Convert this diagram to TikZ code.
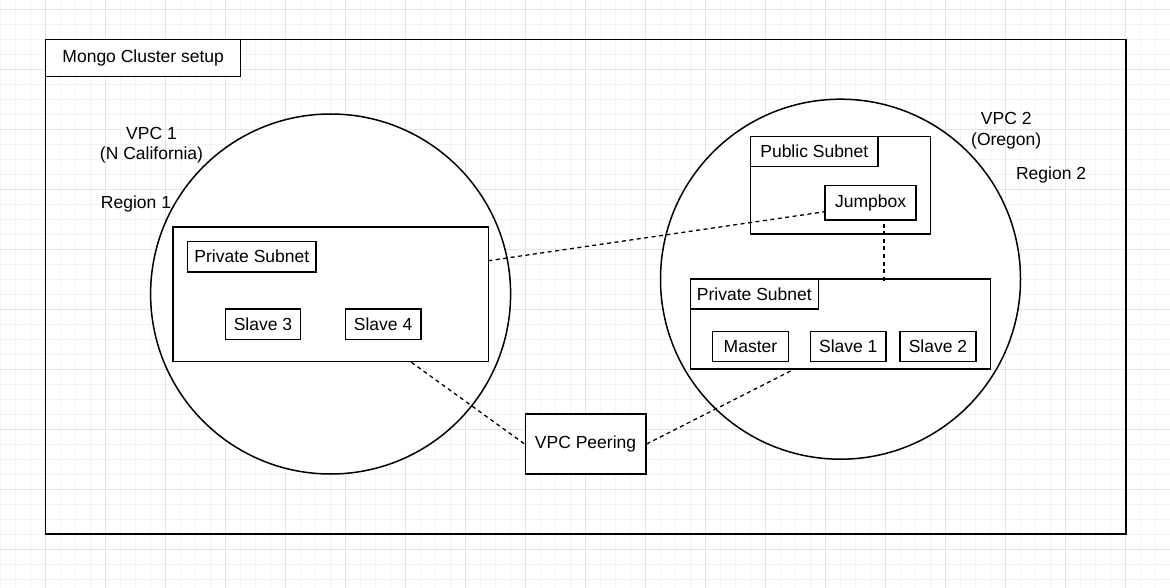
\documentclass[tikz,border=0pt]{standalone}
\usepackage{fontspec}
\setmainfont{Liberation Sans}
\definecolor{gridminor}{HTML}{F3F3F3}
\definecolor{gridmajor}{HTML}{E4E4E4}
\tikzset{
  box/.style={draw=black, fill=white, line width=1.5pt, inner sep=0pt,
    font=\fontsize{17.5}{20.7}\selectfont, align=center},
  vpc/.style={draw=black, fill=white, line width=1.5pt, circle, inner sep=0pt, minimum size=360pt},
  lbl/.style={inner sep=0pt, font=\fontsize{17.5}{20.7}\selectfont, align=center},
  link/.style={draw=black, line width=1.3pt, dash pattern=on 4pt off 3.5pt}
}
\begin{document}
\begin{tikzpicture}[x=1pt,y=-1pt]
\useasboundingbox (0,0) rectangle (1170,588);
\fill[white] (0,0) rectangle (1170,588);
% grid
\foreach \i in {0,...,78} {
  \draw[gridminor, line width=1pt] (0.7+15*\i,0) -- (0.7+15*\i,588);
}
\foreach \i in {0,...,39} {
  \draw[gridminor, line width=1pt] (0,9.3+15*\i) -- (1170,9.3+15*\i);
}
\foreach \i in {0,...,19} {
  \draw[gridmajor, line width=1pt] (45.7+60*\i-60,0) -- (45.7+60*\i-60,588);
}
\foreach \i in {0,...,9} {
  \draw[gridmajor, line width=1pt] (0,9.3+60*\i) -- (1170,9.3+60*\i);
}
% outer frame
\node[draw=black, line width=1.5pt, inner sep=0pt, minimum width=1080.3pt, minimum height=494.7pt] (outer) at (585.85,286.65) {};
\node[box, minimum width=195pt, minimum height=37.4pt] (title) at (143.2,58) {Mongo Cluster setup};
% VPC 1
\node[vpc] (vpc1) at (330.6,294) {};
\node[box, minimum width=315.3pt, minimum height=134.7pt] (sub1) at (330.65,294.35) {};
\node[box, minimum width=128.3pt, minimum height=30.7pt] (lab1) at (251.85,256.65) {Private Subnet};
\node[box, minimum width=75.4pt, minimum height=30.3pt] (s3) at (263,324.15) {Slave 3};
\node[box, minimum width=75.4pt, minimum height=30.3pt] (s4) at (383.1,324.15) {Slave 4};
\node[lbl] (vpc1lbl) at (151.5,145.3) {VPC 1\\(N California)};
\node[lbl] (reg1) at (136,204) {Region 1};
% VPC 2
\node[vpc] (vpc2) at (840.5,279.2) {};
\node[box, minimum width=180pt, minimum height=97.3pt] (pub) at (840.5,185.35) {};
\node[box, minimum width=127.7pt, minimum height=30pt] (publab) at (814.35,151.7) {Public Subnet};
\node[box, minimum width=90.9pt, minimum height=34.7pt] (jump) at (870.55,202.65) {Jumpbox};
\node[box, minimum width=300.4pt, minimum height=90pt] (sub2) at (840.5,324) {};
\node[box, minimum width=128.1pt, minimum height=30pt] (lab2) at (754.35,294) {Private Subnet};
\node[box, minimum width=75.7pt, minimum height=30pt] (master) at (750.45,346.7) {Master};
\node[box, minimum width=75.4pt, minimum height=30pt] (s1) at (848.3,346.7) {Slave 1};
\node[box, minimum width=75.7pt, minimum height=30pt] (s2) at (937.95,346.7) {Slave 2};
\node[lbl] (vpc2lbl) at (1006.2,130.5) {VPC 2\\(Oregon)};
\node[lbl] (reg2) at (1051.1,175) {Region 2};
% peering
\node[box, minimum width=120.5pt, minimum height=60pt] (peer) at (585.55,444) {VPC Peering};
% connector end points
\coordinate (sub1b) at (411.4,362.3);
\coordinate (sub2b) at (794,369.3);
\coordinate (sub1r) at (488.3,260.7);
\coordinate (jumpl) at (825.1,211.7);
\coordinate (jumpb) at (884,224);
\coordinate (sub2t) at (884,283);
\draw[link] (sub1b) -- (peer.west);
\draw[link] (peer.east) -- (sub2b);
\draw[link] (sub1r) -- (jumpl);
\draw[link] (jumpb) -- (sub2t);
\end{tikzpicture}
\end{document}
